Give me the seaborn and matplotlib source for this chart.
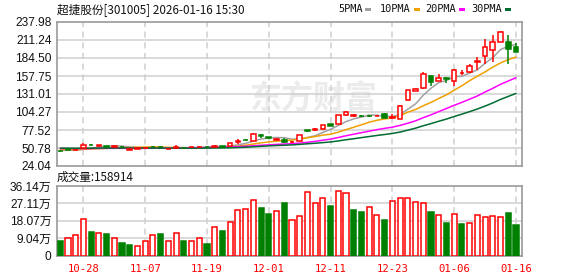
import numpy as np
import pandas as pd
import matplotlib
matplotlib.use("Agg")
import matplotlib.pyplot as plt
from matplotlib.patches import Rectangle
import seaborn as sns

# ---------------- data ----------------
dates = ["10-23", "10-24", "10-27", "10-28", "10-29", "10-30", "10-31", "11-03", "11-04", "11-05",
         "11-06", "11-07", "11-10", "11-11", "11-12", "11-13", "11-14", "11-17", "11-18", "11-19",
         "11-20", "11-21", "11-24", "11-25", "11-26", "11-27", "11-28", "12-01", "12-02", "12-03",
         "12-04", "12-05", "12-08", "12-09", "12-10", "12-11", "12-12", "12-15", "12-16", "12-17",
         "12-18", "12-19", "12-22", "12-23", "12-24", "12-25", "12-26", "12-29", "12-30", "12-31",
         "01-05", "01-06", "01-07", "01-08", "01-09", "01-12", "01-13", "01-14", "01-15", "01-16"]

open_ = [46.2, 48.8, 47.6, 50.8, 55.5, 53.8, 53.6, 52.6, 52.8, 47.9,
         49.6, 50.4, 52.9, 52.8, 49.3, 51.2, 51.5, 51.8, 52.0, 52.4,
         52.8, 53.7, 54.2, 60.4, 63.0, 61.2, 70.6, 66.6, 62.7, 63.2,
         59.2, 61.2, 76.8, 77.8, 78.5, 86.4, 86.9, 99.3, 98.6, 98.2,
         98.6, 98.4, 101.5, 96.0, 94.0, 122.0, 135.5, 139.5, 157.5, 151.0,
         155.5, 150.0, 162.0, 163.0, 179.0, 187.7, 196.5, 209.0, 208.7, 200.4]
close = [45.6, 47.8, 48.4, 55.7, 54.9, 54.6, 52.9, 53.2, 52.2, 49.2,
         50.2, 50.9, 52.2, 51.9, 49.8, 51.6, 50.9, 52.6, 52.9, 51.6,
         54.2, 52.8, 57.7, 61.0, 62.4, 71.1, 68.1, 65.8, 64.8, 60.4,
         60.4, 70.1, 76.2, 78.3, 84.5, 83.5, 99.3, 104.3, 99.0, 97.6,
         98.1, 99.0, 95.6, 97.2, 113.5, 137.0, 138.4, 160.0, 149.2, 155.5,
         152.6, 167.0, 162.5, 173.0, 179.6, 201.4, 208.7, 222.4, 198.0, 193.5]
high = [46.8, 49.3, 48.9, 58.2, 56.2, 55.2, 54.2, 54.2, 53.4, 49.5,
        50.8, 51.4, 53.6, 54.2, 50.2, 54.7, 51.8, 53.0, 53.6, 52.8,
        54.6, 54.0, 58.2, 64.2, 64.6, 72.6, 71.0, 67.6, 65.6, 65.2,
        60.9, 70.6, 78.2, 80.5, 85.0, 87.0, 99.8, 106.2, 100.6, 99.4,
        99.8, 99.6, 102.2, 101.0, 114.0, 137.5, 139.2, 163.0, 158.5, 161.0,
        156.5, 168.0, 166.2, 176.0, 185.8, 212.2, 218.5, 224.5, 218.5, 207.2]
low = [45.0, 47.3, 47.2, 50.4, 54.5, 53.4, 52.5, 52.2, 51.8, 47.6,
       49.3, 50.0, 51.9, 51.6, 48.8, 50.8, 50.4, 51.5, 51.6, 51.2,
       52.4, 52.3, 53.8, 57.2, 60.8, 60.8, 65.1, 64.6, 62.2, 57.6,
       58.8, 60.8, 74.8, 75.6, 78.0, 83.0, 86.4, 99.0, 97.2, 96.2,
       96.8, 97.8, 95.2, 94.0, 93.5, 121.0, 135.0, 139.0, 143.3, 150.5,
       146.7, 143.3, 158.9, 162.0, 166.2, 176.0, 177.9, 208.0, 176.0, 193.0]
# closes of the 29 sessions before the window (for the moving averages)
prior_close = [52.1, 51.6, 52.8, 53.4, 52.0, 51.2, 50.6, 51.9, 52.5, 51.3,
               50.8, 51.7, 52.4, 51.5, 50.9, 51.8, 52.2, 51.0, 50.4, 51.1,
               50.2, 49.6, 50.5, 49.8, 48.9, 48.1, 47.6, 48.3, 47.2]
# volume in 万 shares
volume = [7.4, 9.3, 10.6, 18.9, 12.2, 11.7, 11.1, 9.3, 6.4, 5.3,
          5.1, 7.3, 10.5, 11.1, 7.3, 11.5, 7.4, 7.8, 9.3, 5.8,
          14.7, 12.7, 17.3, 23.7, 24.2, 28.9, 24.9, 21.7, 23.1, 27.5,
          18.3, 20.6, 33.1, 27.4, 30.0, 25.9, 33.7, 32.6, 23.8, 22.8,
          25.2, 21.0, 18.6, 28.4, 30.0, 30.0, 27.9, 27.4, 22.8, 21.0,
          16.9, 21.5, 16.4, 16.7, 21.0, 19.9, 20.5, 19.9, 22.2, 15.89]
vol_dir = list("GRRRGRGRGG" "RRRGRRGRRG" "RGRRRRGGRG" "RRRRRGRRGG" "RRGRRRRRGR" "GRGRRRRRGG")

price_ticks = [24.04, 50.78, 77.52, 104.27, 131.01, 157.75, 184.50, 211.24, 237.98]
vol_ticks = [0, 9.04, 18.07, 27.11, 36.14]
vol_tick_labels = ["0", "9.04万", "18.07万", "27.11万", "36.14万"]
tick_dates = ["10-28", "11-07", "11-19", "12-01", "12-11", "12-23", "01-06", "01-16"]
ma_windows = [5, 10, 20, 30]
ma_names = ["5PMA", "10PMA", "20PMA", "30PMA"]
ma_colors = ["#a0a0a0", "#f0a000", "#ff00ff", "#006b32"]

# ---------------- style ----------------
sns.set_theme(style="white")
plt.rcParams["font.family"] = ["Liberation Sans", "Noto Sans CJK SC", "DejaVu Sans"]

RED = "#ff0000"
GREEN = "#008000"
GRID = "#cfcfcf"
SPINE = "#999999"
W, H = 578, 276

fig = plt.figure(figsize=(W / 100, H / 100), dpi=100)
fig.patch.set_facecolor("white")
ax = fig.add_axes([57 / W, 1 - 166 / H, 465 / W, 144 / H])
axv = fig.add_axes([57 / W, 1 - 255.5 / H, 465 / W, 69.5 / H])

n = len(close)
idx = np.arange(n)
tick_pos = [dates.index(d) for d in tick_dates]
xlim = (-0.42, 59.78)

# moving averages
full_close = pd.Series(prior_close + close)
ma_df = pd.DataFrame({"i": idx})
for w, name in zip(ma_windows, ma_names):
    ma_df[name] = full_close.rolling(w).mean().to_numpy()[len(prior_close):]

# watermark
ax.text(0.55, 0.46, "东方财富", transform=ax.transAxes, ha="center", va="center",
        fontsize=23, fontweight="bold", style="italic", color="#ebebeb", zorder=0.2,
        family=["Noto Sans CJK SC"])

# ---------------- price panel ----------------
for y in price_ticks[1:-1]:
    ax.axhline(y, color=GRID, lw=1.1, zorder=0.5)
for x in tick_pos:
    ax.axvline(x, color=GRID, lw=1.1, ls=(0, (4, 3)), zorder=0.5)

for w, name, col in zip(ma_windows, ma_names, ma_colors):
    sns.lineplot(data=ma_df, x="i", y=name, color=col, lw=1.1, ax=ax, zorder=2)

for i in idx:
    o, c, h, l = open_[i], close[i], high[i], low[i]
    up = c >= o
    col = RED if up else GREEN
    ax.vlines(i, l, h, color=col, lw=1.1, zorder=3)
    body = max(abs(c - o), 0.6)
    ax.bar(i, body, bottom=min(o, c), width=0.6, facecolor="white" if up else GREEN,
           edgecolor=col, linewidth=1.1, zorder=4)

ax.set_xlim(*xlim)
ax.set_ylim(price_ticks[0], price_ticks[-1])
ax.set_yticks(price_ticks)
ax.set_yticklabels([f"{v:.2f}" for v in price_ticks])
ax.set_xticks([])
ax.set_xlabel("")
ax.set_ylabel("")
ax.tick_params(axis="y", length=3, width=1, color=SPINE, pad=1, labelsize=8.6, labelcolor="#111111")
for s in ax.spines.values():
    s.set_color(SPINE)
    s.set_linewidth(1.2)

# ---------------- volume panel ----------------
for y in vol_ticks[1:-1]:
    axv.axhline(y, color=GRID, lw=1.1, zorder=0.5)
for x in tick_pos:
    axv.axvline(x, color=GRID, lw=1.1, ls=(0, (4, 3)), zorder=0.5)

vol_df = pd.DataFrame({"i": idx, "vol": volume})
sns.barplot(data=vol_df, x="i", y="vol", native_scale=True, width=0.66, ax=axv,
            color=RED, errorbar=None, zorder=3)
for patch, d in zip(axv.patches, vol_dir):
    if d == "R":
        patch.set_facecolor("white")
        patch.set_edgecolor(RED)
    else:
        patch.set_facecolor(GREEN)
        patch.set_edgecolor(GREEN)
    patch.set_linewidth(1.1)

axv.set_xlim(*xlim)
axv.set_ylim(vol_ticks[0], vol_ticks[-1])
axv.set_yticks(vol_ticks)
axv.set_yticklabels(vol_tick_labels)
axv.set_xticks(tick_pos)
axv.set_xticklabels(tick_dates, family="DejaVu Sans Mono", color=RED, fontsize=7.6)
axv.set_xlabel("")
axv.set_ylabel("")
axv.tick_params(axis="y", length=3, width=1, color=SPINE, pad=1, labelsize=8.6, labelcolor="#111111")
axv.tick_params(axis="x", length=0, pad=6)
for s in axv.spines.values():
    s.set_color(SPINE)
    s.set_linewidth(1.2)

# ---------------- texts ----------------
fig.text(57 / W, 1 - 10 / H, "超捷股份[301005] 2026-01-16 15:30", ha="left", va="center",
         fontsize=8.4, color="#111111", family=["Noto Sans CJK SC", "DejaVu Sans"])
fig.text(57 / W, 1 - 177 / H, "成交量:158914", ha="left", va="center",
         fontsize=8.4, color="#111111", family=["Noto Sans CJK SC", "DejaVu Sans"])

leg_x = [338, 380, 425, 471]
for x0, name, col in zip(leg_x, ma_names, ma_colors):
    t = fig.text(x0 / W, 1 - 9 / H, name, ha="left", va="center", fontsize=7.4,
                 color="#111111", family="DejaVu Sans Mono")
    wtxt = len(name) * 6.1
    fig.patches.append(Rectangle(((x0 + wtxt + 3) / W, 1 - 11 / H), 6 / W, 3.5 / H,
                                 transform=fig.transFigure, facecolor=col, edgecolor="none"))

fig.savefig("out.png", dpi=100, facecolor="white")
